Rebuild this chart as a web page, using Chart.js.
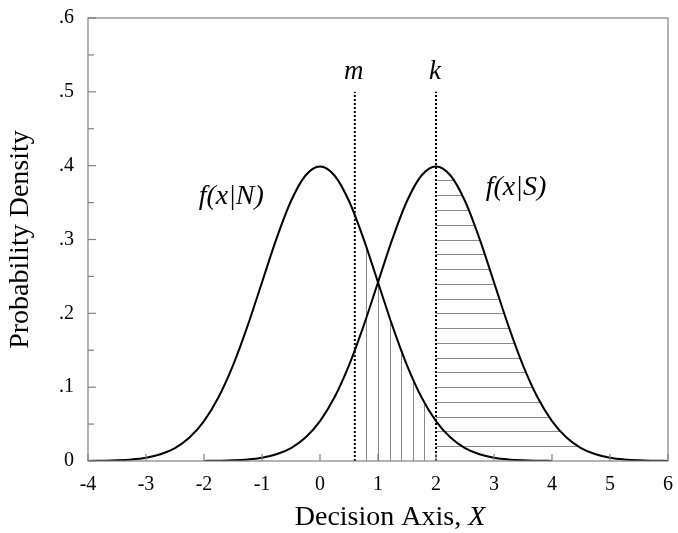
<!DOCTYPE html>
<html>
<head>
<meta charset="utf-8">
<script src="https://cdn.jsdelivr.net/npm/chart.js@4"></script>
<style>
  html, body { margin: 0; padding: 0; background: #fff; }
  #wrap { width: 678px; height: 533px; }
</style>
</head>
<body>
<div id="wrap"><canvas id="chart"></canvas></div>
<script>
// curve f(x|N)
const xN = [-4, -3.75, -3.5, -3.25, -3, -2.75, -2.5, -2.25, -2, -1.75, -1.5, -1.25, -1, -0.75, -0.5, -0.25,
            0, 0.25, 0.5, 0.75, 1, 1.25, 1.5, 1.75, 2, 2.25, 2.5, 2.75, 3, 3.25, 3.5, 3.75, 4];
const densityN = [0.0001, 0.0004, 0.0009, 0.002, 0.0044, 0.0091, 0.0175, 0.0317, 0.054, 0.0863, 0.1295, 0.1826,
                  0.242, 0.3011, 0.3521, 0.3867, 0.3989, 0.3867, 0.3521, 0.3011, 0.242, 0.1826, 0.1295, 0.0863,
                  0.054, 0.0317, 0.0175, 0.0091, 0.0044, 0.002, 0.0009, 0.0004, 0.0001];
// curve f(x|S)
const xS = [-2, -1.75, -1.5, -1.25, -1, -0.75, -0.5, -0.25, 0, 0.25, 0.5, 0.75, 1, 1.25, 1.5, 1.75,
            2, 2.25, 2.5, 2.75, 3, 3.25, 3.5, 3.75, 4, 4.25, 4.5, 4.75, 5, 5.25, 5.5, 5.75, 6];
const densityS = [0.0001, 0.0004, 0.0009, 0.002, 0.0044, 0.0091, 0.0175, 0.0317, 0.054, 0.0863, 0.1295, 0.1826,
                  0.242, 0.3011, 0.3521, 0.3867, 0.3989, 0.3867, 0.3521, 0.3011, 0.242, 0.1826, 0.1295, 0.0863,
                  0.054, 0.0317, 0.0175, 0.0091, 0.0044, 0.002, 0.0009, 0.0004, 0.0001];
// criteria (dotted lines)
const criterionNames = ['m', 'k'];
const criterionValues = [0.6, 2];
const criterionTop = 0.5;
// hatching
const vHatchX = [0.8, 1.0, 1.2, 1.4, 1.6, 1.8];
const hHatchLevels = [0.02, 0.04, 0.06, 0.08, 0.10, 0.12, 0.14, 0.16, 0.18, 0.20,
                      0.22, 0.24, 0.26, 0.28, 0.30, 0.32, 0.34, 0.36, 0.38];
// axes
const xMin = -4, xMax = 6, yMin = 0, yMax = 0.6;

const serif = '"Liberation Serif", "DejaVu Serif", serif';

function toPoints(xs, ys) { return xs.map((x, i) => ({ x: x, y: ys[i] })); }

// clip to the area under a dataset's curve
function clipUnder(ctx, meta, yBase) {
  const pts = meta.data;
  ctx.beginPath();
  ctx.moveTo(pts[0].x, yBase);
  ctx.lineTo(pts[0].x, pts[0].y);
  for (let i = 1; i < pts.length; i++) {
    const p = pts[i - 1], c = pts[i];
    if (p.cp2x !== undefined && c.cp1x !== undefined) {
      ctx.bezierCurveTo(p.cp2x, p.cp2y, c.cp1x, c.cp1y, c.x, c.y);
    } else {
      ctx.lineTo(c.x, c.y);
    }
  }
  ctx.lineTo(pts[pts.length - 1].x, yBase);
  ctx.closePath();
  ctx.clip();
}

const hatchPlugin = {
  id: 'hatch',
  beforeDatasetsDraw(chart) {
    const { ctx, chartArea: a, scales: { x, y } } = chart;
    const y0 = y.getPixelForValue(0);
    ctx.save();
    ctx.strokeStyle = '#8a8a8a';
    ctx.lineWidth = 1;
    // vertical lines under f(x|N)
    ctx.save();
    clipUnder(ctx, chart.getDatasetMeta(0), y0);
    vHatchX.forEach(v => {
      const px = Math.round(x.getPixelForValue(v)) + 0.5;
      ctx.beginPath();
      ctx.moveTo(px, y0);
      ctx.lineTo(px, a.top);
      ctx.stroke();
    });
    ctx.restore();
    // horizontal lines under f(x|S), right of k
    ctx.save();
    const kx = x.getPixelForValue(criterionValues[1]);
    ctx.beginPath();
    ctx.rect(kx, a.top, a.right - kx, y0 - a.top);
    ctx.clip();
    clipUnder(ctx, chart.getDatasetMeta(1), y0);
    hHatchLevels.forEach(v => {
      const py = Math.round(y.getPixelForValue(v)) + 0.5;
      ctx.beginPath();
      ctx.moveTo(kx, py);
      ctx.lineTo(a.right, py);
      ctx.stroke();
    });
    ctx.restore();
    ctx.restore();
  }
};

const framePlugin = {
  id: 'frame',
  afterDraw(chart) {
    const { ctx, chartArea: a, scales: { x, y } } = chart;
    ctx.save();
    ctx.strokeStyle = '#808080';
    ctx.lineWidth = 1.2;
    ctx.strokeRect(a.left, a.top, a.right - a.left, a.bottom - a.top);
    // inward ticks
    x.ticks.forEach(t => {
      const px = x.getPixelForValue(t.value);
      ctx.beginPath();
      ctx.moveTo(px, a.bottom);
      ctx.lineTo(px, a.bottom - 7);
      ctx.stroke();
    });
    y.ticks.forEach(t => {
      const py = y.getPixelForValue(t.value);
      const major = Math.round(t.value * 100) % 10 === 0;
      ctx.beginPath();
      ctx.moveTo(a.left, py);
      ctx.lineTo(a.left + (major ? 8 : 6), py);
      ctx.stroke();
    });
    // x axis title, with italic X
    ctx.fillStyle = '#000';
    ctx.textBaseline = 'alphabetic';
    ctx.textAlign = 'left';
    const part1 = 'Decision Axis, ';
    ctx.font = '28px ' + serif;
    const w1 = ctx.measureText(part1).width;
    ctx.font = 'italic 28px ' + serif;
    const w2 = ctx.measureText('X').width;
    const cx = (a.left + a.right) / 2 + 12;
    const left = cx - (w1 + w2) / 2;
    ctx.font = '28px ' + serif;
    ctx.fillText(part1, left, 525);
    ctx.font = 'italic 28px ' + serif;
    ctx.fillText('X', left + w1, 525);
    ctx.restore();
  }
};

const labelPlugin = {
  id: 'labels',
  afterDatasetsDraw(chart) {
    const { ctx, scales: { x, y } } = chart;
    ctx.save();
    ctx.fillStyle = '#000';
    ctx.textAlign = 'center';
    ctx.textBaseline = 'middle';
    ctx.font = 'italic 27px ' + serif;
    criterionNames.forEach((n, i) => {
      ctx.fillText(n, x.getPixelForValue(criterionValues[i]) - 1, y.getPixelForValue(0.527));
    });
    ctx.font = 'italic 28px ' + serif;
    ctx.fillText('f(x|N)', x.getPixelForValue(-1.53), y.getPixelForValue(0.358));
    ctx.fillText('f(x|S)', x.getPixelForValue(3.38), y.getPixelForValue(0.37));
    ctx.restore();
  }
};

const datasets = [
  { data: toPoints(xN, densityN), borderColor: '#000', borderWidth: 2, pointRadius: 0,
    cubicInterpolationMode: 'monotone', fill: false },
  { data: toPoints(xS, densityS), borderColor: '#000', borderWidth: 2, pointRadius: 0,
    cubicInterpolationMode: 'monotone', fill: false }
];
criterionValues.forEach(v => {
  datasets.push({ data: [{ x: v, y: 0 }, { x: v, y: criterionTop }], borderColor: '#000',
    borderWidth: 2, borderDash: [2, 2], pointRadius: 0, fill: false });
});

new Chart(document.getElementById('chart').getContext('2d'), {
  type: 'line',
  data: { datasets: datasets },
  plugins: [hatchPlugin, framePlugin, labelPlugin],
  options: {
    responsive: true,
    maintainAspectRatio: false,
    animation: false,
    layout: { padding: { top: 12, right: 10, left: 0, bottom: 0 } },
    plugins: { legend: { display: false }, tooltip: { enabled: false } },
    scales: {
      x: {
        type: 'linear', min: xMin, max: xMax,
        ticks: { stepSize: 1, color: '#000', font: { family: serif, size: 20 }, padding: 4,
                 maxRotation: 0, autoSkip: false },
        grid: { display: false },
        border: { display: false },
        title: { display: false },
        afterFit(s) { s.height = 72; }
      },
      y: {
        min: yMin, max: yMax,
        ticks: { stepSize: 0.05, color: '#000', font: { family: serif, size: 20 }, padding: 6,
                 autoSkip: false,
                 callback(v) {
                   const n = Math.round(v * 100);
                   if (n % 10 !== 0) return '';
                   return n === 0 ? '0' : '.' + (n / 10);
                 } },
        grid: { display: false },
        border: { display: false },
        title: { display: true, text: 'Probability Density', color: '#000',
                 font: { family: serif, size: 28 }, padding: { bottom: 4 } },
        afterFit(s) { s.width = 88; }
      }
    }
  }
});
</script>
</body>
</html>
